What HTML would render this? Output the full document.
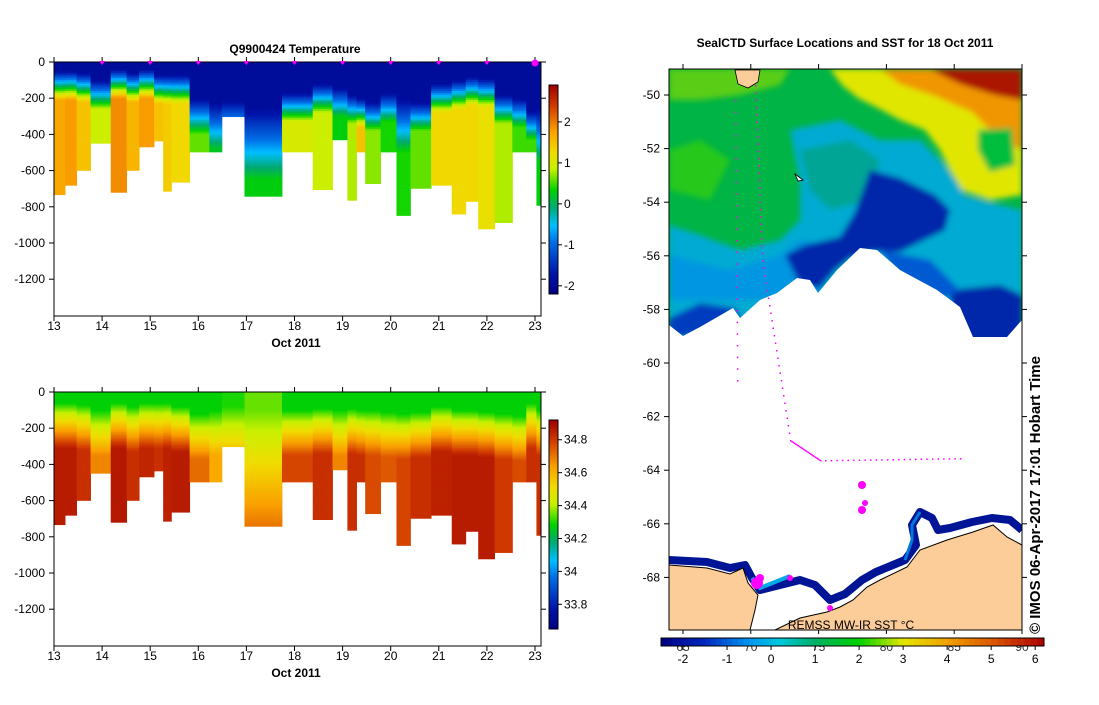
<!DOCTYPE html>
<html><head><meta charset="utf-8">
<style>
html,body{margin:0;padding:0;background:#fff;}
svg text{font-family:"Liberation Sans",sans-serif;}
</style></head>
<body>
<svg id="root" width="1099" height="700" viewBox="0 0 1099 700" xmlns="http://www.w3.org/2000/svg">
<g id="tPlot"></g>
<g id="sPlot"></g>
<g id="map"></g>
</svg>
<script>
// ---------- profile data ----------
const profileEdges = [13.01,13.23,13.47,13.76,14.18,14.51,14.77,15.08,15.27,15.44,15.82,16.23,16.49,16.96,17.74,18.38,18.79,19.10,19.29,19.47,19.79,20.12,20.41,20.84,21.27,21.56,21.82,22.16,22.53,22.82,23.03,23.12];
const maxDepth = [733,681,599,449,720,599,469,436,714,664,497,497,302,742,497,705,430,764,497,672,497,848,698,681,840,770,922,887,497,497,792];
const tMixDepth = [130,130,140,180,120,140,120,150,150,150,300,350,290,450,250,200,220,260,280,300,250,350,300,200,180,160,170,260,280,350,400];
const tRamp = [160,160,160,160,160,160,160,160,160,160,200,250,160,400,160,160,160,160,160,160,160,300,160,160,160,160,160,160,160,160,300];
const tDeep = [1.7,1.8,1.5,0.9,1.9,1.6,1.8,1.5,1.4,1.3,0.6,0.2,-0.3,0.3,1.0,0.9,0.3,0.8,1.5,0.7,0.4,0.4,0.6,1.3,1.3,1.3,1.2,0.8,0.5,0.5,0.3];
const tSurface = -1.9;
const sTop = [34.28,34.28,34.28,34.28,34.28,34.28,34.28,34.28,34.28,34.28,34.28,34.28,34.3,34.35,34.28,34.28,34.28,34.28,34.28,34.28,34.28,34.28,34.28,34.28,34.28,34.28,34.28,34.28,34.28,34.28,34.28];
const sStart = [60,60,70,100,60,80,60,60,60,80,120,100,80,100,100,90,100,90,100,100,110,120,110,80,100,100,110,120,130,60,100];
const sRamp = [250,250,250,250,250,250,250,250,250,250,250,250,250,700,250,250,250,250,250,250,250,250,250,250,250,250,250,250,250,250,250];
const sDeep = [34.86,34.86,34.82,34.68,34.87,34.82,34.84,34.82,34.85,34.86,34.72,34.62,34.58,34.74,34.78,34.82,34.68,34.82,34.82,34.77,34.75,34.78,34.82,34.85,34.86,34.86,34.86,34.8,34.77,34.82,34.82];
const dayTicks = [13,14,15,16,17,18,19,20,21,22,23];
const depthTicks = [0,-200,-400,-600,-800,-1000,-1200];
const tBarTicks = [-2,-1,0,1,2];
const sBarTicks = [33.8,34,34.2,34.4,34.6,34.8];
const surfaceMarks = [14,15,16,17,18,19,20,21,22];
// ---------- map data ----------
const latTicks = [-50,-52,-54,-56,-58,-60,-62,-64,-66,-68];
const lonTicks = [65,70,75,80,85,90];
const sstTicks = [-2,-1,0,1,2,3,4,5,6];

const NS="http://www.w3.org/2000/svg";
function mk(tag,attrs,parent){const e=document.createElementNS(NS,tag);for(const k in attrs)e.setAttribute(k,attrs[k]);parent.appendChild(e);return e;}
const stops=[[0,[0,0,130]],[0.1,[0,20,170]],[0.25,[0,110,230]],[0.33,[0,190,255]],[0.42,[0,170,110]],[0.5,[0,210,0]],[0.6,[200,240,0]],[0.68,[240,220,0]],[0.78,[250,160,0]],[0.9,[210,60,0]],[1,[160,0,0]]];
function cmap(f){f=Math.max(0,Math.min(1,f));for(let i=1;i<stops.length;i++){if(f<=stops[i][0]){const a=stops[i-1],b=stops[i];const u=(f-a[0])/(b[0]-a[0]);const c=a[1].map((v,j)=>Math.round(v+(b[1][j]-v)*u));return `rgb(${c[0]},${c[1]},${c[2]})`;}}return 'rgb(160,0,0)';}
const cl=v=>Math.max(0,Math.min(1,v));

function panel(g,top,title,valFn,vmin,vmax,barTicks,barFmt,barTop,barBot,marks){
  const L=54,R=541,T=top,B=top+254;
  const x=d=>L+(d-13)*48.1;
  const y=z=>T+z*0.181;
  for(let i=0;i<maxDepth.length;i++){
    const x0=x(profileEdges[i]),x1=x(profileEdges[i+1]);
    for(let z=0;z<maxDepth[i];z+=10){
      const v=valFn(i,z+5);
      const r=mk('rect',{x:x0,y:y(z),width:x1-x0+0.4,height:Math.min(10,maxDepth[i]-z)*0.181+0.4,fill:cmap((v-vmin)/(vmax-vmin))},g);
      
      
    }
  }
  mk('rect',{x:L,y:T,width:R-L,height:B-T,fill:'none',stroke:'#000','stroke-width':1,},g);
  dayTicks.forEach(d=>{
    mk('line',{x1:x(d),x2:x(d),y1:B,y2:B+5,stroke:'#000'},g);
    mk('line',{x1:x(d),x2:x(d),y1:T,y2:T-5,stroke:'#000'},g);
    const t=mk('text',{x:x(d),y:B+14,'font-size':12,'text-anchor':'middle'},g);t.textContent=d;
    
  });
  depthTicks.forEach(v=>{
    const yy=y(-v);
    mk('line',{x1:L-5,x2:L,y1:yy,y2:yy,stroke:'#000'},g);
    mk('line',{x1:R,x2:R+5,y1:yy,y2:yy,stroke:'#000'},g);
    const t=mk('text',{x:L-9,y:yy+4,'font-size':12,'text-anchor':'end'},g);t.textContent=v;
    
  });
  const xl=mk('text',{x:296,y:B+31,'font-size':12,'font-weight':'bold','text-anchor':'middle',},g);xl.textContent='Oct 2011';
  if(title){const tt=mk('text',{x:295,y:T-9,'font-size':12,'font-weight':'bold','text-anchor':'middle','xml:space':'preserve'},g);tt.textContent=title;}
  if(marks){marks.forEach(d=>{const p=mk('path',{d:`M${x(d)-3},${T-1}L${x(d)+3},${T-1}L${x(d)},${T+3}Z`,fill:'#f0f'},g);});
    mk('circle',{cx:x(23),cy:T+1,r:3.5,fill:'#f0f',},g);}
  const bx=549,bw=9;
  for(let yy=barTop;yy<barBot;yy++){mk('rect',{x:bx,y:yy,width:bw,height:1.2,fill:cmap((barBot-yy)/(barBot-barTop))},g);}
  mk('rect',{x:bx,y:barTop,width:bw,height:barBot-barTop,fill:'none',stroke:'#000',},g);
  barTicks.forEach(v=>{const yy=barBot-(v-vmin)/(vmax-vmin)*(barBot-barTop);
    mk('line',{x1:bx+bw,x2:bx+bw+4,y1:yy,y2:yy,stroke:'#000'},g);
    const t=mk('text',{x:bx+bw+6,y:yy+4,'font-size':12},g);t.textContent=barFmt(v);
    });
}
const tFn=(i,z)=>tSurface+(tDeep[i]-tSurface)*cl((z-tMixDepth[i]+tRamp[i]/2)/tRamp[i]);
const sFn=(i,z)=>sTop[i]+(sDeep[i]-sTop[i])*cl((z-sStart[i])/sRamp[i]);
panel(document.getElementById('tPlot'),62,'Q9900424  Temperature',tFn,-2.2,2.9,tBarTicks,v=>v,85,294,surfaceMarks);
panel(document.getElementById('sPlot'),392,null,sFn,33.65,34.92,sBarTicks,v=>Math.abs(v-34)<1e-6?'34':v.toFixed(1),420,629,null);

// ---------- map ----------
const m=document.getElementById('map');
const ML=669,MR=1022,MT=69,MB=630;
const latY=l=>95+(-50-l)*26.8;
const lonX=o=>683+(o-65)*13.56;
mk('text',{x:845,y:47,'font-size':12,'font-weight':'bold','text-anchor':'middle',},m).textContent='SealCTD Surface Locations and SST for 18 Oct 2011';
const defs=mk('defs',{},m);
const cp=mk('clipPath',{id:'mc'},defs);mk('rect',{x:ML,y:MT,width:MR-ML,height:MB-MT},cp);
const fl=mk('filter',{id:'bl'},defs);mk('feGaussianBlur',{stdDeviation:3},fl);
const mg=mk('g',{'clip-path':'url(#mc)'},m);
function poly(pts,fill,name,extra){const p=mk('polygon',Object.assign({points:pts,fill:fill},extra||{}),mg);return p;}
mk('rect',{x:ML,y:MT,width:MR-ML,height:MB-MT,fill:'rgb(0,180,70)'},mg);
const sg=mk('g',{filter:'url(#bl)'},mg);
function sp(pts,fill){mk('polygon',{points:pts,fill:fill},sg);}
sp('669,69 790,69 780,85 740,95 700,100 669,100','rgb(90,205,20)');
sp('669,150 700,140 730,160 710,200 669,190','rgb(40,200,30)');
sp('790,130 840,120 880,140 920,140 945,165 965,195 1000,205 1022,210 1022,345 669,345 669,225 700,235 740,250 780,240 800,220 800,180','rgb(0,170,210)');
sp('800,150 850,140 880,160 870,200 830,210 810,190','rgb(0,165,150)');
sp('669,255 730,270 780,255 800,240 830,245 820,300 669,300','rgb(0,150,225)');
sp('830,69 1022,69 1022,195 990,200 962,190 950,170 940,150 925,130 900,120 878,108 858,98 842,85','rgb(225,230,0)');
sp('880,69 1022,69 1022,150 1000,140 972,112 935,96 900,84','rgb(240,150,0)');
sp('930,69 1022,69 1022,100 995,95 960,84','rgb(170,20,0)');
sp('978,130 1012,128 1015,165 990,172 978,150','rgb(0,190,60)');
sp('870,170 900,178 935,195 950,210 945,230 920,242 900,252 870,252 850,258 835,270 820,288 800,285 785,255 805,245 840,237 855,212','rgb(0,40,170)');
sp('950,290 1000,285 1022,295 1022,345 950,345','rgb(0,40,170)');
sp('669,318 700,303 735,308 745,325 669,340','rgb(0,60,190)');
sp('880,250 930,260 960,290 940,300 900,280','rgb(0,90,210)');
poly('669,325 683,336 700,327 733,308 740,318 760,300 777,293 797,278 810,280 818,293 837,270 860,248 877,250 900,270 937,290 960,307 973,337 1007,337 1022,320 1022,630 669,630','#fff','ice-area');
mk('polyline',{points:'669,560 707,562 730,568 745,565 752,578 760,590 780,585 800,580 815,585 830,600 845,594 862,580 876,572 905,560 916,545 912,525 920,512 932,518 938,530 950,528 972,522 992,518 1010,520 1022,530',fill:'none',stroke:'rgb(0,20,150)','stroke-width':8,'stroke-linejoin':'round',},mg);
mk('polyline',{points:'752,578 760,588 775,582 790,576',fill:'none',stroke:'rgb(0,170,230)','stroke-width':4},mg);
mk('polyline',{points:'905,560 912,540 912,525 920,512',fill:'none',stroke:'rgb(0,120,220)','stroke-width':3},mg);
poly('669,565 707,568 730,574 743,568 748,583 758,595 755,610 750,630 775,630 800,618 827,612 840,607 853,600 867,587 880,580 907,567 920,550 947,540 973,532 993,525 1007,537 1022,545 1022,630 669,630','rgb(252,204,153)','antarctic-land',{stroke:'#000','stroke-width':1});
mk('rect',{x:750,y:630,width:25,height:1,fill:'#fff'},mg);
poly('735,70 760,70 758,82 748,88 738,84','rgb(252,204,153)','island-land',{stroke:'#000','stroke-width':0.8});
const dots=mk('g',{fill:'#f0f',},mg);
[[735,100,737,380],[755,85,762,260],[762,260,790,440],[790,440,820,460],[825,460,960,458]].forEach(s=>{for(let k=0;k<=24;k++){const u=k/24;mk('rect',{x:s[0]+(s[2]-s[0])*u,y:s[1]+(s[3]-s[1])*u,width:1.5,height:1.5},dots);}});
[[862,485,4],[862,510,4],[865,503,3],[757,583,6],[760,578,4],[790,578,3],[830,608,3]].forEach(c=>mk('circle',{cx:c[0],cy:c[1],r:c[2]},dots));
mk('path',{d:'M795,174 L803,180 L798,181 Z',fill:'#fff',stroke:'#000','stroke-width':0.8},mg);
mk('rect',{x:ML,y:MT,width:MR-ML,height:MB-MT,fill:'none',stroke:'#000',},m);
latTicks.forEach(l=>{const yy=latY(l);mk('line',{x1:ML-5,x2:ML,y1:yy,y2:yy,stroke:'#000'},m);mk('line',{x1:MR,x2:MR+5,y1:yy,y2:yy,stroke:'#000'},m);
  const t=mk('text',{x:ML-9,y:yy+4,'font-size':12,'text-anchor':'end'},m);t.textContent=l;});
lonTicks.forEach(o=>{const xx=lonX(o);mk('line',{x1:xx,x2:xx,y1:MT,y2:MT-5,stroke:'#000'},m);mk('line',{x1:xx,x2:xx,y1:MB,y2:MB+4,stroke:'#000'},m);
  const t=mk('text',{x:xx,y:651,'font-size':12,'text-anchor':'middle',fill:'#333'},m);t.textContent=o;});
mk('text',{x:851,y:629,'font-size':12,'text-anchor':'middle',},m).textContent='REMSS MW-IR SST °C';
const sstStops=[[-2.5,[0,0,130]],[-1.5,[0,40,190]],[-0.5,[0,150,240]],[0.2,[0,200,220]],[1,[0,175,100]],[2,[0,210,0]],[3,[230,230,0]],[4,[240,160,0]],[5,[220,90,0]],[6.2,[170,0,0]]];
const cbx=v=>661+(v+2.5)*(1044-661)/8.7;
for(let i=1;i<sstStops.length;i++){const a=sstStops[i-1],b=sstStops[i];for(let k=0;k<8;k++){const u=k/8,c=a[1].map((q,j)=>Math.round(q+(b[1][j]-q)*(u+0.06)));const v0=a[0]+(b[0]-a[0])*u;mk('rect',{x:cbx(v0),y:638,width:(b[0]-a[0])/8*(1044-661)/8.7+0.5,height:8,fill:`rgb(${c})`},m);}}
mk('rect',{x:661,y:638,width:383,height:8,fill:'none',stroke:'#000',},m);
sstTicks.forEach(v=>{const xx=cbx(v);mk('line',{x1:xx,x2:xx,y1:646,y2:650,stroke:'#000'},m);const t=mk('text',{x:xx,y:663,'font-size':12,'text-anchor':'middle'},m);t.textContent=v;});
const ct=mk('text',{transform:'translate(1040,634) rotate(-90)','font-size':15,'font-weight':'bold',textLength:278,lengthAdjust:'spacingAndGlyphs',},m);ct.textContent='© IMOS 06-Apr-2017 17:01 Hobart Time';
</script>
</body></html>
